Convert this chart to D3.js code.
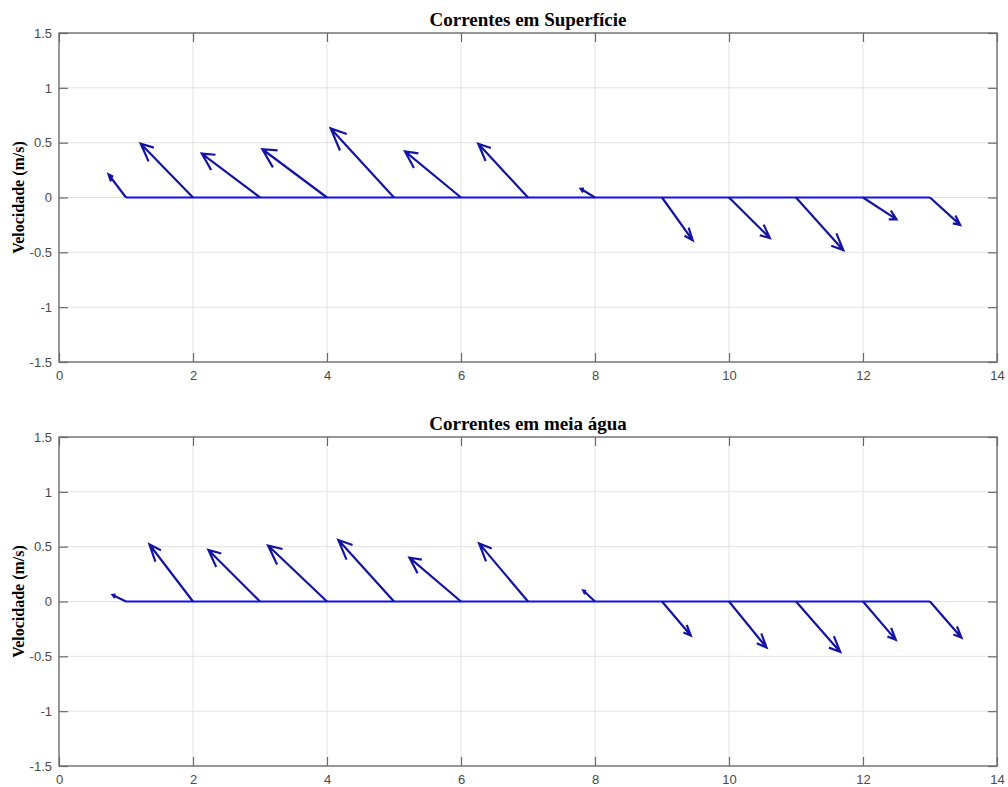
<!DOCTYPE html>
<html>
<head>
<meta charset="utf-8">
<script src="https://cdn.jsdelivr.net/npm/d3@7"></script>
<style>
  html, body { margin: 0; padding: 0; background: #ffffff; }
  svg { display: block; }
</style>
</head>
<body>
<svg id="chart" width="1008" height="787"></svg>
<script>
// ---- Data ----
const stations = [1, 2, 3, 4, 5, 6, 7, 8, 9, 10, 11, 12, 13];

const titles = ["Correntes em Superfície", "Correntes em meia água"];
const yLabel = "Velocidade (m/s)";

// Surface currents: u (east) and v (north) components
const surfaceU = [-0.26, -0.78, -0.87, -0.965, -0.945, -0.836, -0.742, -0.214, 0.458, 0.61, 0.706, 0.50, 0.45];
const surfaceV = [0.21, 0.49, 0.40, 0.44, 0.63, 0.42, 0.49, 0.08, -0.39, -0.37, -0.48, -0.20, -0.25];

// Mid-water currents
const midU = [-0.20, -0.65, -0.77, -0.88, -0.83, -0.77, -0.73, -0.175, 0.43, 0.56, 0.66, 0.49, 0.47];
const midV = [0.06, 0.52, 0.47, 0.51, 0.56, 0.40, 0.53, 0.10, -0.31, -0.42, -0.46, -0.35, -0.33];

const xTicks = [0, 2, 4, 6, 8, 10, 12, 14];
const yTicks = [-1.5, -1, -0.5, 0, 0.5, 1, 1.5];
const xDomain = [0, 14];
const yDomain = [-1.5, 1.5];

// ---- Drawing ----
const svg = d3.select("#chart");
const left = 59, right = 997;
const panels = [
  { top: 33, bottom: 362, title: titles[0], u: surfaceU, v: surfaceV },
  { top: 437, bottom: 766, title: titles[1], u: midU, v: midV }
];

const tickFont = "'Liberation Sans', Arial, sans-serif";
const serif = "'Liberation Serif', 'Times New Roman', serif";
const tickColor = "#4a4a4a";
const boxColor = "#6b6b6b";
const arrowColor = "#1414a4";
const baseColor = "#1010ec";
const tickLen = 9;

panels.forEach(p => {
  const x = d3.scaleLinear().domain(xDomain).range([left, right]);
  const y = d3.scaleLinear().domain(yDomain).range([p.bottom, p.top]);
  const g = svg.append("g");

  // grid
  g.append("g").selectAll("line").data(xTicks.slice(1, -1)).join("line")
    .attr("x1", d => x(d)).attr("x2", d => x(d))
    .attr("y1", p.top).attr("y2", p.bottom)
    .attr("stroke", "#e2e2e2").attr("stroke-width", 1);
  g.append("g").selectAll("line").data(yTicks.slice(1, -1)).join("line")
    .attr("x1", left).attr("x2", right)
    .attr("y1", d => y(d)).attr("y2", d => y(d))
    .attr("stroke", "#e2e2e2").attr("stroke-width", 1);

  // axes (ticks inward, mirrored on all sides)
  const fmt = d => String(d);
  const axB = g.append("g").attr("transform", `translate(0,${p.bottom})`)
    .call(d3.axisBottom(x).tickValues(xTicks).tickFormat(fmt).tickSizeInner(-tickLen).tickSizeOuter(0).tickPadding(9));
  const axT = g.append("g").attr("transform", `translate(0,${p.top})`)
    .call(d3.axisTop(x).tickValues(xTicks).tickFormat("").tickSizeInner(-tickLen).tickSizeOuter(0));
  const axL = g.append("g").attr("transform", `translate(${left},0)`)
    .call(d3.axisLeft(y).tickValues(yTicks).tickFormat(fmt).tickSizeInner(-tickLen).tickSizeOuter(0).tickPadding(7));
  const axR = g.append("g").attr("transform", `translate(${right},0)`)
    .call(d3.axisRight(y).tickValues(yTicks).tickFormat("").tickSizeInner(-tickLen).tickSizeOuter(0));
  [axB, axT, axL, axR].forEach(a => {
    a.select(".domain").remove();
    a.selectAll(".tick line").attr("stroke", boxColor).attr("stroke-width", 1.2);
    a.selectAll(".tick text").attr("fill", tickColor)
      .style("font-family", tickFont).style("font-size", "13px");
  });

  // box
  g.append("rect").attr("x", left).attr("y", p.top)
    .attr("width", right - left).attr("height", p.bottom - p.top)
    .attr("fill", "none").attr("stroke", boxColor).attr("stroke-width", 1.4);

  // baseline
  g.append("line")
    .attr("x1", x(stations[0])).attr("x2", x(stations[stations.length - 1]))
    .attr("y1", y(0)).attr("y2", y(0))
    .attr("stroke", baseColor).attr("stroke-width", 2);

  // feather arrows (MATLAB style: head at 0.8 length, +/-0.08 width)
  const arrows = stations.map((s, i) => ({ s, u: p.u[i], v: p.v[i] }));
  g.append("g").selectAll("path").data(arrows).join("path")
    .attr("d", d => {
      const tx = d.s + d.u, ty = d.v;
      const ax = d.s + 0.8 * d.u - 0.08 * d.v, ay = 0.8 * d.v + 0.08 * d.u;
      const bx = d.s + 0.8 * d.u + 0.08 * d.v, by = 0.8 * d.v - 0.08 * d.u;
      return `M${x(d.s)},${y(0)}L${x(tx)},${y(ty)}` +
             `M${x(ax)},${y(ay)}L${x(tx)},${y(ty)}L${x(bx)},${y(by)}`;
    })
    .attr("fill", "none").attr("stroke", arrowColor).attr("stroke-width", 2.2)
    .attr("stroke-linejoin", "miter").attr("stroke-linecap", "butt");

  // title
  g.append("text").attr("x", (left + right) / 2).attr("y", p.top - 7)
    .attr("text-anchor", "middle")
    .style("font-family", serif).style("font-weight", "bold").style("font-size", "19px")
    .attr("fill", "#000").text(p.title);

  // y label
  const cy = (p.top + p.bottom) / 2;
  g.append("text").attr("transform", `translate(24,${cy}) rotate(-90)`)
    .attr("text-anchor", "middle")
    .style("font-family", serif).style("font-weight", "bold").style("font-size", "16px")
    .attr("fill", "#000").text(yLabel);
});
</script>
</body>
</html>
